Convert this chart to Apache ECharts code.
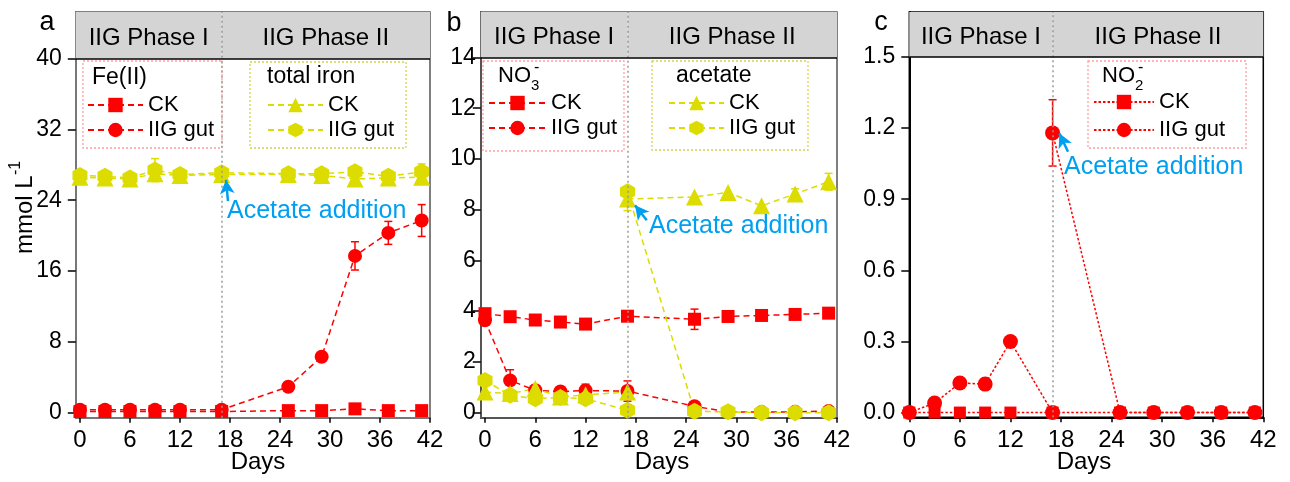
<!DOCTYPE html>
<html>
<head>
<meta charset="utf-8">
<script src="https://cdn.jsdelivr.net/npm/echarts@6/dist/echarts.min.js"></script>
<style>
  html, body { margin: 0; padding: 0; background: #fff; }
  #chart { width: 1290px; height: 482px; }
</style>
</head>
<body>
<div id="chart"></div>
<script>
// sampling days
const days = [0, 3, 6, 9, 12, 17, 25, 29, 33, 37, 41];
const daysPre = [0, 3, 6, 9, 12, 17];
const daysPost = [17, 25, 29, 33, 37, 41];
const dayTicks = [0, 6, 12, 18, 24, 30, 36, 42];

// panel a: Fe(II) and total iron (mmol/L)
const feCK = [0.1, 0.1, 0.1, 0.1, 0.1, 0.1, 0.2, 0.2, 0.4, 0.2, 0.2];
const feGut = [0.3, 0.3, 0.3, 0.3, 0.3, 0.3, 2.9, 6.3, 17.7, 20.3, 21.7];
const feGutErr = [0, 0, 0, 0, 0, 0, 0.3, 0.4, 1.6, 1.3, 1.8];
const totFeCK = [26.6, 26.5, 26.4, 27.0, 26.8, 26.9, 26.9, 26.8, 26.4, 26.5, 26.6];
const totFeGut = [26.8, 26.7, 26.5, 27.4, 26.9, 27.1, 27.0, 27.0, 27.2, 26.7, 27.2];
const totFeGutErr = [0, 0, 0, 1.3, 0, 0, 0, 0, 0.5, 0, 0.9];

// panel b: nitrate and acetate
const no3CK = [3.9, 3.78, 3.65, 3.57, 3.49, 3.8, 3.68, 3.79, 3.83, 3.87, 3.92];
const no3CKErr = [0, 0, 0, 0, 0, 0, 0.4, 0, 0, 0, 0];
const no3Gut = [3.64, 1.27, 0.88, 0.83, 0.87, 0.85, 0.25, 0.03, 0.02, 0.03, 0.06];
const no3GutErr = [0, 0.42, 0.2, 0.15, 0.25, 0.4, 0.1, 0, 0, 0, 0];
const acCKPre = [0.81, 0.75, 0.95, 0.62, 0.7, 0.81];
const acGutPre = [1.27, 0.68, 0.55, 0.6, 0.55, 0.09];
const acCKPost = [8.42, 8.5, 8.68, 8.15, 8.62, 9.1];
const acCKPostErr = [0.46, 0, 0, 0, 0.2, 0.33];
const acGutPost = [8.71, 0.05, 0.03, 0.0, 0.0, 0.0];

// panel c: nitrite
const no2CK = [0, 0, 0, 0, 0, 0, 0, 0, 0, 0, 0];
const no2GutPre = [0.0, 0.04, 0.125, 0.12, 0.3, 0.0];
const no2GutPost = [1.18, 0, 0, 0, 0, 0];
const no2GutPostErr = [0.14, 0, 0, 0, 0, 0];

const yTicksA = [0, 8, 16, 24, 32, 40];
const yTicksB = [0, 2, 4, 6, 8, 10, 12, 14];
const yTicksC = [0, 0.3, 0.6, 0.9, 1.2, 1.5];

const RED = '#ff0000', YEL = '#dcdc00', BLUE = '#00a0f0';
const FONT = 'Arial, "Liberation Sans", sans-serif';
const hexagon = 'path://M0,-10L8.66,-5L8.66,5L0,10L-8.66,5L-8.66,-5Z';
const DASH = [6, 4], DOT = [2.5, 2];

function pairs(xs, ys) {
    return xs.map((x, i) => [x, ys[i]]);
}

function line(name, idx, xs, ys, color, symbol, size, dash) {
    return {
        name: name, type: 'line', xAxisIndex: idx, yAxisIndex: idx,
        data: pairs(xs, ys), symbol: symbol, symbolSize: size,
        itemStyle: { color: color },
        lineStyle: { color: color, width: 1.5, type: dash },
        z: 3
    };
}

function errBars(idx, xs, ys, errs, color) {
    return {
        type: 'custom', xAxisIndex: idx, yAxisIndex: idx, silent: true, z: 2,
        data: xs.map((x, i) => [x, ys[i], errs[i]]).filter(d => d[2] > 0),
        encode: { x: 0, y: 1 },
        renderItem: function (params, api) {
            const x = api.value(0), y = api.value(1), e = api.value(2);
            const t = api.coord([x, y + e]), b = api.coord([x, y - e]);
            const st = { stroke: color, lineWidth: 1.5 };
            return {
                type: 'group', children: [
                    { type: 'line', shape: { x1: t[0], y1: t[1], x2: b[0], y2: b[1] }, style: st },
                    { type: 'line', shape: { x1: t[0] - 4, y1: t[1], x2: t[0] + 4, y2: t[1] }, style: st },
                    { type: 'line', shape: { x1: b[0] - 4, y1: b[1], x2: b[0] + 4, y2: b[1] }, style: st }
                ]
            };
        }
    };
}

// header band with phase names
function header(idx, xmin, ymin, ymax) {
    return {
        type: 'line', xAxisIndex: idx, yAxisIndex: idx, data: [], z: 1, silent: true,
        markArea: {
            silent: true,
            itemStyle: { color: '#d4d4d4' },
            label: { show: true, position: 'inside', offset: [0, 3], color: '#000', fontSize: 24, fontFamily: FONT },
            data: [
                [{ name: 'IIG Phase I', coord: [xmin, ymin] }, { coord: [17, ymax] }],
                [{ name: 'IIG Phase II', coord: [17, ymin] }, { coord: [42, ymax] }]
            ]
        }
    };
}

function divider(idx, ytop) {
    return {
        type: 'line', xAxisIndex: idx, yAxisIndex: idx, data: [], z: 2, silent: true,
        markLine: {
            silent: true, symbol: 'none', label: { show: false },
            data: [
                { xAxis: 17, lineStyle: { type: [2, 3], color: '#999', width: 1.5 } },
                { yAxis: ytop, lineStyle: { type: 'solid', color: '#000', width: 1.5 } }
            ]
        }
    };
}

function arrow(from, to) {
    return {
        silent: true, symbol: ['none', 'arrow'], symbolSize: [11, 14],
        label: { show: false },
        lineStyle: { color: BLUE, width: 2.5, type: 'solid' },
        data: [[{ coord: from }, { coord: to }]]
    };
}

function xAxis(idx, min, color) {
    return {
        type: 'value', gridIndex: idx, min: min, max: 42,
        splitLine: { show: false },
        axisLine: { show: true, onZero: false, lineStyle: { color: color, width: 2 } },
        axisTick: { show: true, customValues: dayTicks, length: 5, lineStyle: { color: '#000', width: 1.5 } },
        axisLabel: { customValues: dayTicks, fontSize: 24, color: '#000', fontFamily: FONT, margin: 11 }
    };
}

function yAxis(idx, min, max, ticks, margin, fmt, color) {
    return {
        type: 'value', gridIndex: idx, min: min, max: max,
        splitLine: { show: false },
        axisLine: { show: true, onZero: false, lineStyle: { color: color, width: 2 } },
        axisTick: { show: true, customValues: ticks, length: 8, lineStyle: { color: '#000', width: 1.5 } },
        axisLabel: { customValues: ticks, formatter: fmt, fontSize: 23, color: '#000', fontFamily: FONT, margin: margin }
    };
}

function legend(key, left, top, itemWidth, gap) {
    return {
        data: [key + '|CK', key + '|IIG gut'],
        left: left, top: top, orient: 'vertical', padding: 0,
        itemWidth: itemWidth, itemHeight: 18, itemGap: gap,
        selectedMode: false,
        formatter: n => n.split('|')[1],
        textStyle: { fontSize: 22, color: '#000', fontFamily: FONT }
    };
}

function box(x, y, w, h, color) {
    return {
        type: 'rect', silent: true, z: 5,
        shape: { x: x, y: y, width: w, height: h },
        style: { fill: 'none', stroke: color, lineWidth: 1.3, lineDash: [2, 2] }
    };
}

function txt(text, x, y, size, color, align) {
    return {
        type: 'text', x: x, y: y, silent: true, z: 6,
        style: {
            text: text, fontSize: size, fontFamily: FONT, fill: color || '#000',
            align: align || 'left', verticalAlign: 'middle'
        }
    };
}

const feGutSeries = line('a1|IIG gut', 0, days, feGut, RED, 'circle', 14, DASH);
const acCKPostSeries = line('b2|CK', 1, daysPost, acCKPost, YEL, 'triangle', 17, DASH);
const no2GutPostSeries = line('c|IIG gut', 2, daysPost, no2GutPost, RED, 'circle', 15, DOT);

const totFeGutSeries = line('a2|IIG gut', 0, days, totFeGut, YEL, hexagon, [15, 17], DASH);
totFeGutSeries.markLine = arrow([17.76, 23.9], [17.52, 26.3]);
acCKPostSeries.markLine = arrow([19.3, 7.58], [17.9, 8.17]);
no2GutPostSeries.markLine = arrow([18.83, 1.10], [17.8, 1.178]);

const option = {
    animation: false,
    grid: [
        { left: 75.8, top: 12, width: 354.2, height: 405.7, show: true, borderColor: '#555', borderWidth: 1.5 },
        { left: 480.8, top: 12, width: 356.2, height: 405.7, show: true, borderColor: '#555', borderWidth: 1.5 },
        { left: 909.3, top: 12, width: 354, height: 405.3, show: true, borderColor: '#000', borderWidth: 1.5 }
    ],
    xAxis: [xAxis(0, -0.5, '#777'), xAxis(1, -0.5, '#555'), xAxis(2, 0, '#000')],
    yAxis: [
        yAxis(0, -0.6, 45.28, yTicksA, 14, v => String(v), '#777'),
        yAxis(1, -0.2, 15.79, yTicksB, 5, v => String(v), '#555'),
        yAxis(2, -0.02, 1.69, yTicksC, 14, v => v.toFixed(1), '#000')
    ],
    legend: [
        legend('a1', 87, 94, 55, 3),
        legend('a2', 267, 94, 55, 3),
        legend('b1', 488, 92, 57, 3),
        legend('b2', 668, 92, 55, 3),
        legend('c', 1093, 91, 60, 6)
    ],
    graphic: [
        box(83, 61, 139, 87, '#ff9f9f'),
        box(250, 62, 156, 86, '#d4d44a'),
        box(483, 61, 141, 90, '#ff9f9f'),
        box(652, 61, 156, 89, '#d4d44a'),
        box(1088, 61, 158, 87, '#ff9f9f'),
        txt('Fe(II)', 92, 78, 23),
        txt('total iron', 267, 77, 23),
        txt('NO', 498, 76, 22),
        txt('3', 531, 86, 15),
        txt('-', 534, 68, 16),
        txt('acetate', 676, 76, 23),
        txt('NO', 1102, 76, 22),
        txt('2', 1135, 86, 15),
        txt('-', 1138, 68, 16),
        txt('a', 47, 23, 27, '#000', 'center'),
        txt('b', 454, 24, 27, '#000', 'center'),
        txt('c', 881, 23, 27, '#000', 'center'),
        txt('Days', 258, 462, 24, '#000', 'center'),
        txt('Days', 662, 462, 24, '#000', 'center'),
        txt('Days', 1084, 462, 24, '#000', 'center'),
        txt('Acetate addition', 227, 211, 25, BLUE),
        txt('Acetate addition', 649, 226, 25, BLUE),
        txt('Acetate addition', 1064, 167, 25, BLUE),
        {
            type: 'group', x: 25, y: 207, rotation: Math.PI / 2, silent: true,
            children: [
                txt('mmol L', -47, 0, 24),
                txt('-1', 32, -9, 16)
            ]
        }
    ],
    series: [
        header(0, -0.5, 40, 45.28),
        header(1, -0.5, 14, 15.79),
        header(2, 0, 1.5, 1.69),
        divider(0, 40),
        divider(1, 14),
        divider(2, 1.5),

        errBars(0, days, feGut, feGutErr, RED),
        errBars(0, days, totFeGut, totFeGutErr, YEL),
        line('a2|CK', 0, days, totFeCK, YEL, 'triangle', 17, DASH),
        totFeGutSeries,
        line('a1|CK', 0, days, feCK, RED, 'rect', 13, DASH),
        feGutSeries,

        errBars(1, days, no3CK, no3CKErr, RED),
        errBars(1, days, no3Gut, no3GutErr, RED),
        errBars(1, daysPost, acCKPost, acCKPostErr, YEL),
        line('b1|CK', 1, days, no3CK, RED, 'rect', 13, DASH),
        line('b1|IIG gut', 1, days, no3Gut, RED, 'circle', 14, DASH),
        line('b2|CK', 1, daysPre, acCKPre, YEL, 'triangle', 17, DASH),
        line('b2|IIG gut', 1, daysPre, acGutPre, YEL, hexagon, [15, 17], DASH),
        acCKPostSeries,
        line('b2|IIG gut', 1, daysPost, acGutPost, YEL, hexagon, [15, 17], DASH),

        errBars(2, daysPost, no2GutPost, no2GutPostErr, RED),
        line('c|CK', 2, days, no2CK, RED, 'rect', 12, DOT),
        line('c|IIG gut', 2, daysPre, no2GutPre, RED, 'circle', 15, DOT),
        no2GutPostSeries
    ]
};

const myChart = echarts.init(document.getElementById('chart'), null, { renderer: 'canvas' });
myChart.setOption(option);
</script>
</body>
</html>
